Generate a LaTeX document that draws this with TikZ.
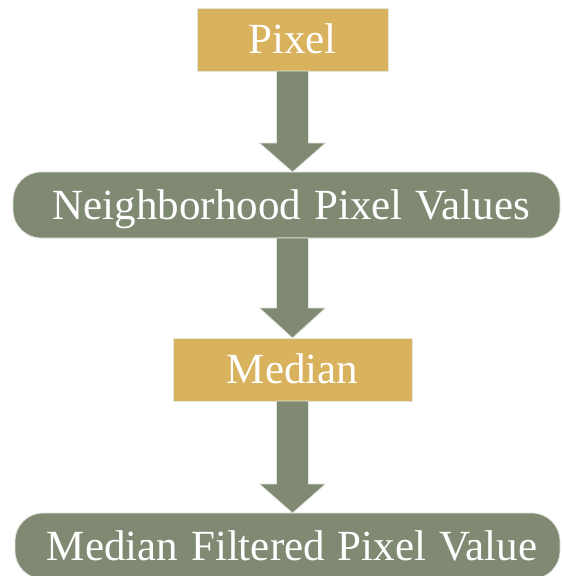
\documentclass[tikz,border=0pt]{standalone}
\usepackage{fontspec}
\setmainfont{Liberation Serif}
\usetikzlibrary{calc}

\definecolor{boxgold}{RGB}{216,178,92}
\definecolor{sage}{RGB}{128,138,114}
\definecolor{rim}{RGB}{226,230,222}

\tikzset{
  base/.style={inner sep=0pt, outer sep=0pt, text=white,
    font=\fontsize{43}{50}\selectfont,
    execute at begin node={\spaceskip=13pt\relax},
    text height=28.5pt, text depth=0pt,
    draw=rim, line width=0.8pt},
  goldbox/.style={base, fill=boxgold},
  pillbox/.style={base, fill=sage, rounded corners=28pt},
  flow/.style={fill=sage, draw=rim, line width=0.8pt, line join=miter}
}

% Block arrow from the bottom of one node down to the top of the next
\newcommand{\flowarrow}[2]{%
  \path[flow] let \p1=(#1.south), \p2=(#2.north) in
    (\x1-16pt,\y1) -- (\x1+16pt,\y1) -- (\x1+16pt,\y2+29pt)
    -- (\x1+33pt,\y2+29pt) -- (\x1,\y2) -- (\x1-33pt,\y2+29pt)
    -- (\x1-16pt,\y2+29pt) -- cycle;}

\begin{document}
\begin{tikzpicture}[x=1pt,y=-1pt]
  \clip (0,0) rectangle (562,576);
  \fill[white] (0,0) rectangle (562,576);

  \node[goldbox, minimum width=191pt, minimum height=63pt] (pixel) at (292.5,39.5) {Pixel};
  \node[pillbox, minimum width=547pt, minimum height=66pt] (nbhd) at (286.5,205)
    {\hspace*{10pt}Neighborhood Pixel Values};
  \node[goldbox, minimum width=239pt, minimum height=63pt] (median) at (292.5,369.5) {Median};
  \node[pillbox, minimum width=545pt, minimum height=66pt] (result) at (287.5,546)
    {\hspace*{9pt}Median Filtered Pixel Value};

  \flowarrow{pixel}{nbhd}
  \path[flow] let \p1=(pixel.south), \p2=(nbhd.south), \p3=(median.north) in
    (\x1-16pt,\y2) -- (\x1+16pt,\y2) -- (\x1+16pt,\y3+30pt)
    -- (\x1+33pt,\y3+30pt) -- (\x1,\y3) -- (\x1-33pt,\y3+30pt)
    -- (\x1-16pt,\y3+30pt) -- cycle;
  \flowarrow{median}{result}
\end{tikzpicture}
\end{document}
